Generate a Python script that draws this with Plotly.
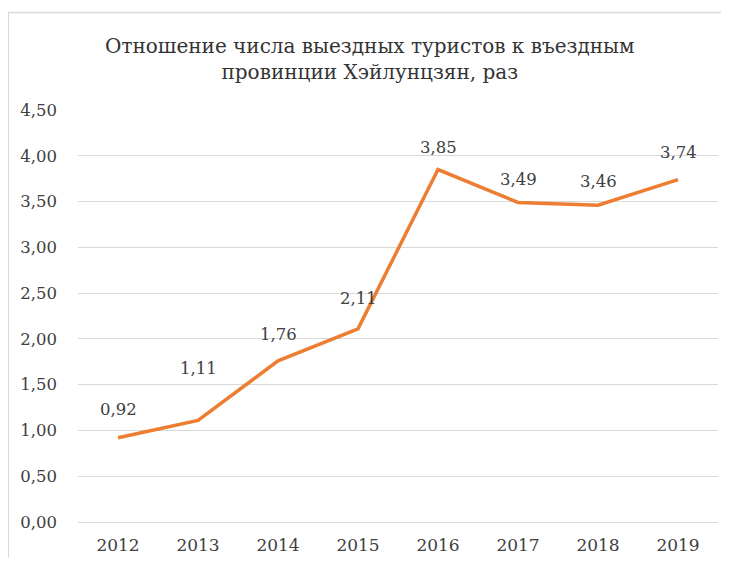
import plotly.graph_objects as go

years = ["2012", "2013", "2014", "2015", "2016", "2017", "2018", "2019"]
ratio = [0.92, 1.11, 1.76, 2.11, 3.85, 3.49, 3.46, 3.74]
y_ticks = [0, 0.5, 1.0, 1.5, 2.0, 2.5, 3.0, 3.5, 4.0, 4.5]
y_tick_labels = ["0,00", "0,50", "1,00", "1,50", "2,00", "2,50", "3,00", "3,50", "4,00", "4,50"]
labels = [f"{v:.2f}".replace(".", ",") for v in ratio]

# label offsets above points (style only)
label_shift = [28, 52, 26, 30, 22, 23, 24, 27]

serif = "DejaVu Serif"
text_col = "#404040"

fig = go.Figure()
fig.add_trace(go.Scatter(
    x=years, y=ratio, mode="lines",
    line=dict(color="#ED7D31", width=3.5),
    cliponaxis=False, showlegend=False, hoverinfo="x+y",
))

annotations = [
    dict(x=i, y=y, text=t, showarrow=False, xref="x", yref="y",
         yshift=s, font=dict(family=serif, size=16.5, color=text_col))
    for i, (y, t, s) in enumerate(zip(ratio, labels, label_shift))
]
annotations.append(dict(
    text="Отношение числа выездных туристов к въездным<br>провинции Хэйлунцзян, раз",
    xref="paper", yref="paper", x=0.456, y=1.1244, xanchor="center", yanchor="middle",
    showarrow=False, font=dict(family=serif, size=20, color="#333333"),
))

fig.update_layout(
    width=713, height=550,
    margin=dict(l=70, r=3, t=102, b=34),
    paper_bgcolor="white", plot_bgcolor="white",
    font=dict(family=serif),
    xaxis=dict(
        type="category", showgrid=False, showline=False, zeroline=False,
        tickfont=dict(family=serif, size=17, color=text_col),
        ticks="", ticklabelstandoff=11, range=[-0.5, 7.5],
    ),
    yaxis=dict(
        range=[0, 4.5], tickvals=y_ticks, ticktext=y_tick_labels,
        showgrid=True, gridcolor="#D9D9D9", gridwidth=1,
        zeroline=True, zerolinecolor="#D9D9D9", zerolinewidth=1,
        showline=False, ticks="",
        tickfont=dict(family=serif, size=16.5, color=text_col),
        ticklabelstandoff=20,
    ),
    annotations=annotations,
    shapes=[
        dict(type="line", xref="paper", yref="paper", x0=-0.109, x1=1.03, y0=1.2367, y1=1.2367,
             line=dict(color="#D9D9D9", width=1.5)),
        dict(type="line", xref="paper", yref="paper", x0=-0.109, x1=-0.109, y0=1.2367, y1=-0.12,
             line=dict(color="#D9D9D9", width=1.5)),
    ],
)

fig.write_html("out.html")
